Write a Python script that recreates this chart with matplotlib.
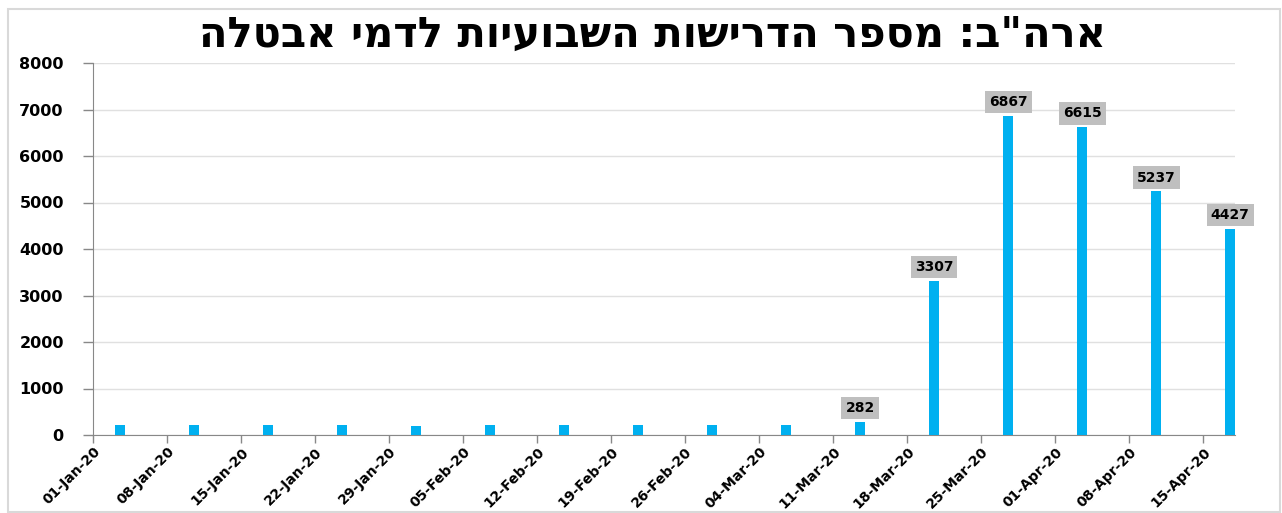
import matplotlib
matplotlib.use("Agg")
import matplotlib.pyplot as plt
import matplotlib.dates as mdates
import pandas as pd
from matplotlib.patches import Rectangle

# weekly initial jobless claims, thousands (week ending Saturday)
weeks = pd.date_range("2020-01-04", "2020-04-18", freq="7D")
claims = [211, 207, 223, 212, 204, 205, 214, 219, 217, 211,
          282, 3307, 6867, 6615, 5237, 4427]
label_from = 282  # only these and above get a label
tick_dates = pd.date_range("2020-01-01", "2020-04-15", freq="7D")
title = 'ארה"ב: מספר הדרישות השבועיות לדמי אבטלה'

plt.rcParams['font.family'] = ['DejaVu Sans']

fig = plt.figure(figsize=(12.82, 5.13), dpi=100)
ax = fig.add_axes([93/1282, 78/513, 1142/1282, 372/513])

# bars end on the week date (excel date axis look)
ax.bar(weeks, claims, width=-0.95, align="edge", color="#00B0F0", zorder=3)

for d, v in zip(weeks, claims):
    if v >= label_from:
        ax.annotate(str(v), (d - pd.Timedelta(hours=11), v), xytext=(0, 5),
                    textcoords="offset points", ha="center", va="bottom",
                    fontsize=10, fontweight="bold", color="black", zorder=5,
                    bbox=dict(boxstyle="square,pad=0.3", fc="#BFBFBF", ec="none"))

ax.set_xlim(pd.Timestamp("2020-01-01"), pd.Timestamp("2020-04-18"))
ax.set_ylim(0, 8000)
ax.set_yticks(range(0, 8001, 1000))
ax.set_xticks(tick_dates)
ax.xaxis.set_major_formatter(mdates.DateFormatter("%d-%b-%y"))
plt.setp(ax.get_xticklabels(), rotation=45, ha="right", rotation_mode="anchor")

ax.tick_params(axis="both", color="#888888", width=1)
ax.tick_params(axis="y", labelsize=11.5, length=7, pad=14)
ax.tick_params(axis="x", labelsize=10, length=6, pad=1)
for lab in ax.get_xticklabels() + ax.get_yticklabels():
    lab.set_fontweight("bold")

ax.grid(axis="y", color="#E0E0E0", linewidth=1, zorder=0)
for s in ["top", "right"]:
    ax.spines[s].set_visible(False)
for s in ["left", "bottom"]:
    ax.spines[s].set_color("#888888")

# hebrew is right-to-left, matplotlib draws left-to-right
fig.text(0.509, 0.932, title[::-1], ha="center", va="center", fontsize=30,
         fontweight="bold", family=["DejaVu Sans"])

fig.patches.append(Rectangle((8/1282, 0.002), 1272/1282, 0.98, transform=fig.transFigure,
                             fill=False, ec="#D9D9D9", lw=1.5))

fig.savefig("out.png", dpi=100)
